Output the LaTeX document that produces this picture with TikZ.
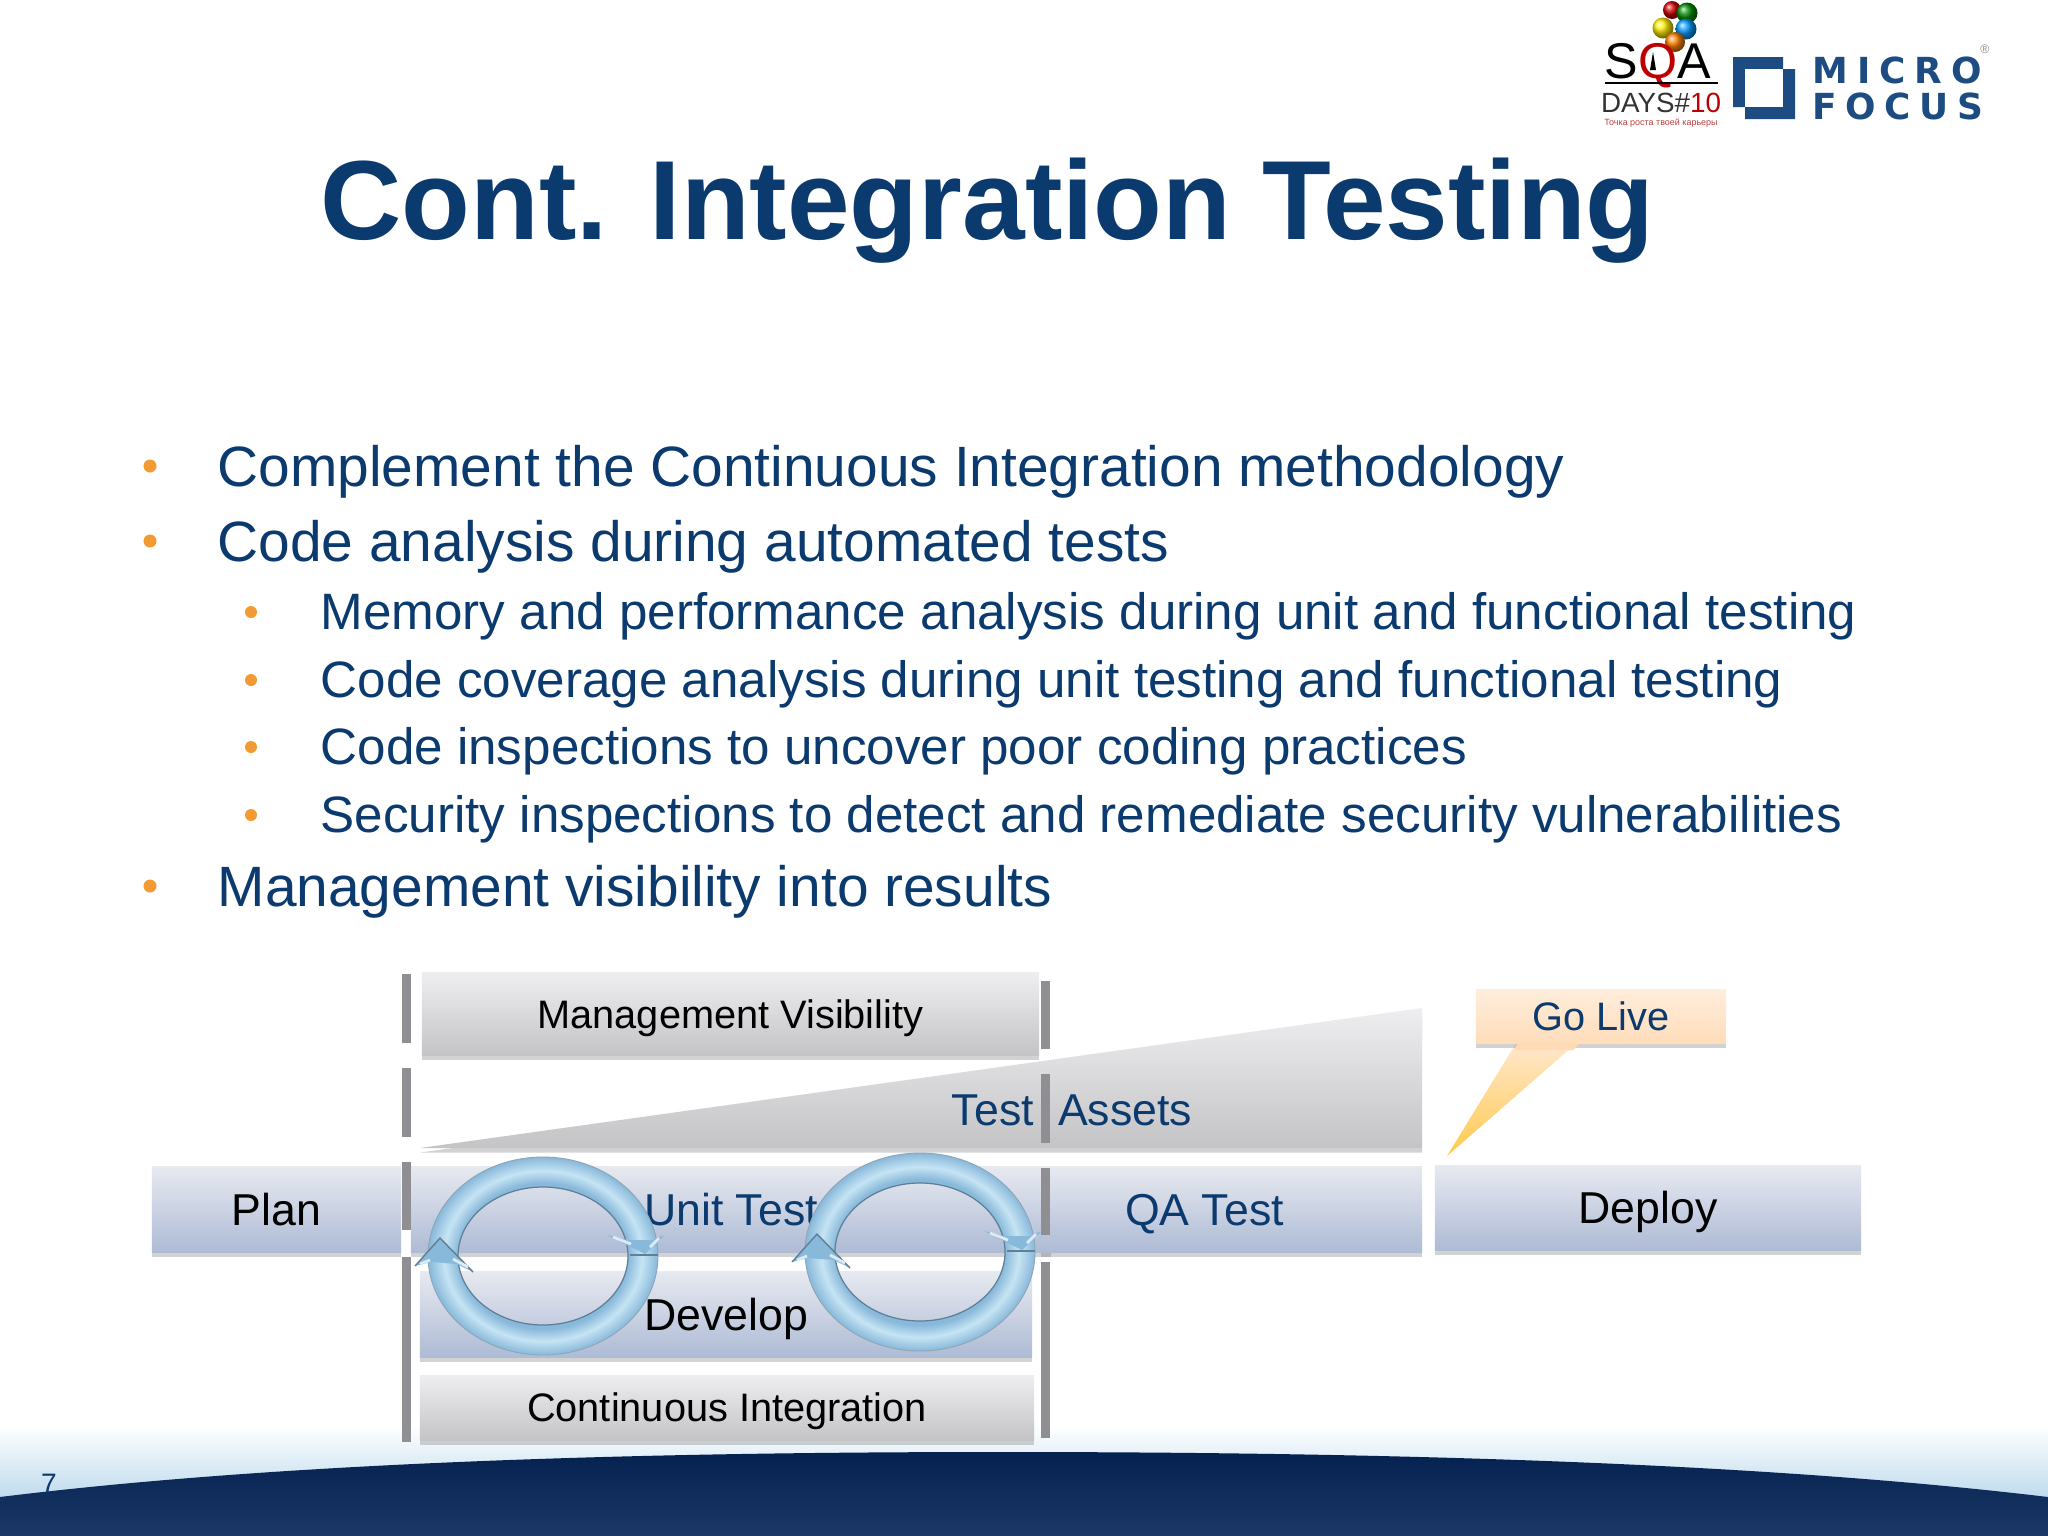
\documentclass[tikz,border=0pt]{standalone}
\usepackage{fontspec}
\setmainfont{Liberation Sans}
\newfontfamily\logofont{DejaVu Sans}
\definecolor{mfnavy}{HTML}{0B3A6E}
\definecolor{mforange}{HTML}{F39A32}
\definecolor{mfbar}{HTML}{8F8F93}
\definecolor{mflogo}{HTML}{1C4C82}
\definecolor{boxtop}{HTML}{E7E9F0}
\definecolor{boxlow}{HTML}{AEBBD5}
\definecolor{greytop}{HTML}{EEEDEF}
\definecolor{greylow}{HTML}{C4C4C6}
\definecolor{ringedge}{HTML}{88B8DA}
\definecolor{ringmid}{HTML}{C6E4F4}
\definecolor{ringline}{HTML}{5F7F96}
\definecolor{domeup}{HTML}{04214F}
\definecolor{domelow}{HTML}{1B3867}
\definecolor{glow}{HTML}{B9D7EC}
\usetikzlibrary{shadows, positioning, calc}
\pgfdeclareradialshading{ringshade}{\pgfpoint{0bp}{0bp}}{color(0bp)=(ringedge);
  color(18.4bp)=(ringedge); color(21.5bp)=(ringmid); color(25bp)=(ringedge); color(50bp)=(ringedge)}

\begin{document}
\begin{tikzpicture}[x=0.01cm, y=-0.01cm,
    lineone/.style={anchor=base west, text=mfnavy, inner sep=0pt, font=\fontsize{16.17}{20}\selectfont},
    linetwo/.style={anchor=base west, text=mfnavy, inner sep=0pt, font=\fontsize{14.55}{18}\selectfont},
    dotone/.style={circle, fill=mforange, inner sep=0pt, minimum size=0.13cm},
    dottwo/.style={circle, fill=mforange, inner sep=0pt, minimum size=0.12cm},
    softshadow/.style={drop shadow={shadow xshift=0pt, shadow yshift=-1.3pt, opacity=0.35}},
    bluebox/.style={top color=boxtop, bottom color=boxlow, softshadow,
                    inner sep=0pt, text height=9pt, text depth=0pt, font=\fontsize{12.7}{15}\selectfont},
    greybox/.style={top color=greytop, bottom color=greylow, softshadow,
                    inner sep=0pt, text height=8pt, text depth=0pt, font=\fontsize{11.3}{14}\selectfont},
    gatebar/.style={fill=mfbar},
    ring/.style={shading=ringshade, even odd rule},
    ringhead/.style={fill=ringedge, line join=miter}
  ]
  \useasboundingbox (0,0) rectangle (2048,1536);
  \fill[white] (0,0) rectangle (2048,1536);

  % slide footer
  \shade[top color=white, bottom color=glow] (0,1425) rectangle (2048,1505);
  \shade[top color=domeup, bottom color=domelow]
    (0,1497) .. controls (300,1460) and (680,1452) .. (1000,1452)
    .. controls (1340,1452) and (1740,1460) .. (2048,1497) -- (2048,1536) -- (0,1536) -- cycle;
  \node[text=mfnavy, inner sep=0pt, font=\fontsize{8}{10}\selectfont] (page) at (49,1484) {7};

  % logos
  \shade[ball color=red!80!black] (1672,10) circle (9);
  \shade[ball color=green!55!black] (1687,13) circle (10.5);
  \shade[ball color=yellow!85!orange] (1663,28) circle (10.5);
  \shade[ball color=cyan!60!blue] (1686,29) circle (10.5);
  \shade[ball color=orange] (1675,42) circle (10);
  \node[inner sep=0pt, anchor=base, font=\fontsize{14.3}{14}\selectfont] (sqa) at (1658,78) {S\textcolor{red!75!black}{Q}A};
  \fill (1653,52) -- (1656,70) -- (1650,70) -- cycle;
  \draw[line width=0.6pt] (1605,83) -- (1718,83);
  \node[inner sep=0pt, anchor=base, text=black!80, font=\fontsize{7.9}{8}\selectfont] (days) at (1661,112) {DAYS\#\textcolor{red!75!black}{10}};
  \node[inner sep=0pt, anchor=base, text=red!65!black!75, font=\fontsize{2.55}{3}\selectfont] (slogan) at (1661,125) {Точка роста твоей карьеры};
  \fill[mflogo] (1733,57) -- (1783,57) -- (1783,69) -- (1795,69) -- (1795,119) -- (1745,119) -- (1745,107) -- (1733,107) -- cycle;
  \fill[white] (1745,69) rectangle (1783,107);
  \node[inner sep=0pt, anchor=base west, text=mflogo, font=\fontsize{10.2}{10}\logofont\bfseries\addfontfeature{LetterSpace=25}] (micro) at (1812,83) {MICRO};
  \node[inner sep=0pt, anchor=base west, text=mflogo, font=\fontsize{10.2}{10}\logofont\bfseries\addfontfeature{LetterSpace=24}] (focus) at (1812,119) {FOCUS};
  \node[inner sep=0pt, text=black!45, font=\fontsize{3.5}{4}\selectfont] (reg) at (1985,49) {®};

  % title and bullets
  \node[anchor=base west, inner sep=0pt, text=mfnavy, font=\fontsize{32}{36}\bfseries] (title) at (320,239) {Cont. Integration Testing};

  \node[dotone] (d1) at (150,466) {};
  \node[lineone] (l1) at (217,486) {Complement the Continuous Integration methodology};
  \node[dotone] (d2) at (150,541) {};
  \node[lineone] (l2) at (217,561) {Code analysis during automated tests};
  \node[dottwo] (d3) at (251,612) {};
  \node[linetwo] (l3) at (320,629) {Memory and performance analysis during unit and functional testing};
  \node[dottwo] (d4) at (251,680) {};
  \node[linetwo] (l4) at (320,697) {Code coverage analysis during unit testing and functional testing};
  \node[dottwo] (d5) at (251,747) {};
  \node[linetwo] (l5) at (320,764) {Code inspections to uncover poor coding practices};
  \node[dottwo] (d6) at (251,815) {};
  \node[linetwo] (l6) at (320,832) {Security inspections to detect and remediate security vulnerabilities};
  \node[dotone] (d7) at (150,886) {};
  \node[lineone] (l7) at (217,906) {Management visibility into results};

  % phases
  \path[greybox] (420,1148) -- (1422,1008) -- (1422,1148) -- cycle;
  \node[greybox, minimum width=6.17cm, minimum height=0.82cm] (mgmt) at (730.5,1014) {Management Visibility};
  \node[bluebox, minimum width=2.49cm, minimum height=0.85cm] (plan) at (276.5,1209.5) {Plan};
  \node[bluebox, minimum width=3.81cm, minimum height=0.85cm, text=mfnavy] (qa) at (1231.5,1209.5) {QA Test\kern15.4pt\relax};
  \node[bluebox, minimum width=6.40cm, minimum height=0.85cm, text=mfnavy] (unit) at (731,1209.5) {Unit Test};
  \node[bluebox, minimum width=4.26cm, minimum height=0.84cm] (deploy) at (1648,1208) {Deploy};
  \node[bluebox, minimum width=6.12cm, minimum height=0.85cm] (dev) at (726,1314.5) {Develop};
  \node[greybox, minimum width=6.14cm, minimum height=0.65cm] (ci) at (727,1407.5) {Continuous Integration};
  \node[text=mfnavy, inner sep=0pt, font=\fontsize{12.7}{15}\selectfont] (assets) at (1072,1110) {Test\hspace{0.54em}Assets};

  % go live callout
  \coordinate (tip) at (1447,1156);
  \shade[top color=orange!18, bottom color=orange!60!yellow!70] (1518,1040) -- (1580,1040) -- (tip) -- cycle;
  \node[top color=orange!14, bottom color=orange!27, softshadow, inner sep=0pt,
        minimum width=2.50cm, minimum height=0.53cm, text=mfnavy, text height=8pt, text depth=0pt,
        font=\fontsize{11.3}{14}\selectfont] (golive) at (1601,1016.5) {Go Live};
  \shade[top color=orange!30, bottom color=orange!28] (1518,1043) -- (1580,1043) -- (1573,1050) -- (1514,1050) -- cycle;

  % gate bars
  \fill[gatebar] (402,974) rectangle (411,1043);
  \fill[gatebar] (402,1068) rectangle (411,1137);
  \fill[gatebar] (402,1162) rectangle (411,1230);
  \fill[gatebar] (402,1257) rectangle (411,1442);
  \fill[gatebar] (1041,981) rectangle (1050,1049);
  \fill[gatebar] (1041,1074) rectangle (1050,1143);
  \fill[gatebar] (1041,1168) rectangle (1050,1235);
  \fill[gatebar] (1041,1262) rectangle (1050,1438);

  % cycle rings
  \foreach \cx/\cy in {543/1256, 920/1252}{
    \path[ring] (\cx,\cy) circle [x radius=115, y radius=99] (\cx,\cy) circle [x radius=85, y radius=69];
    \draw[ringline, line width=0.35pt] (\cx,\cy) circle [x radius=85, y radius=69];
    \draw[ringline!70, line width=0.25pt] (\cx,\cy) circle [x radius=115, y radius=99];
    \fill[ringhead] ($(\cx,\cy)+(64,-21)$) -- ($(\cx,\cy)+(102,-2)$) -- ($(\cx,\cy)+(122,-21)$) -- ($(\cx,\cy)+(110,-16)$) -- ($(\cx,\cy)+(85,-16)$) -- cycle;
    \draw[white!70!ringedge, line width=0.8pt] ($(\cx,\cy)+(70,-19)$) -- ($(\cx,\cy)+(88,-12)$);
    \draw[white!70!ringedge, line width=0.8pt] ($(\cx,\cy)+(116,-18)$) -- ($(\cx,\cy)+(107,-9)$);
    \draw[ringline, line width=0.5pt] ($(\cx,\cy)+(87,-1)$) -- ($(\cx,\cy)+(115,-1)$);
    \fill[ringhead] ($(\cx,\cy)+(-103,-18)$) -- ($(\cx,\cy)+(-128,10)$) -- ($(\cx,\cy)+(-112,6)$) -- ($(\cx,\cy)+(-86,8)$) -- ($(\cx,\cy)+(-70,16)$) -- cycle;
    \draw[ringline, line width=0.4pt] ($(\cx,\cy)+(-128,10)$) -- ($(\cx,\cy)+(-103,-18)$) -- ($(\cx,\cy)+(-70,16)$);
    \draw[white!70!ringedge, line width=0.8pt] ($(\cx,\cy)+(-123,8)$) -- ($(\cx,\cy)+(-113,4)$);
    \draw[white!70!ringedge, line width=0.8pt] ($(\cx,\cy)+(-90,3)$) -- ($(\cx,\cy)+(-75,11)$);
  }
\end{tikzpicture}
\end{document}
